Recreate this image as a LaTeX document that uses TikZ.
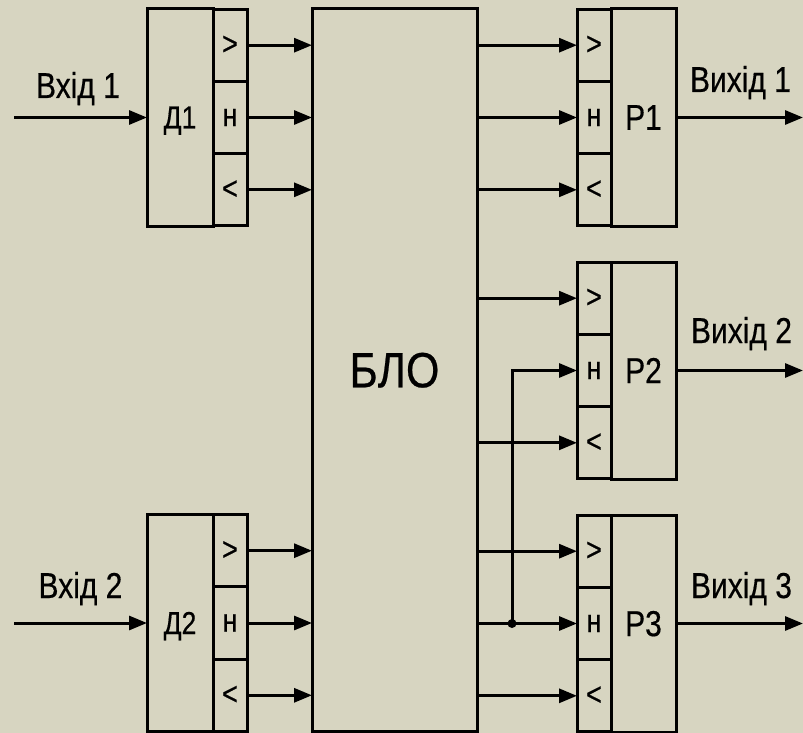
\documentclass[tikz,border=0pt]{standalone}
\usepackage{fontspec}
\setmainfont[FakeBold=0.5]{Liberation Sans}
\usepackage{graphicx}
\usetikzlibrary{arrows.meta,calc}
\definecolor{bg}{RGB}{215,213,193}
\newcommand{\stretchtxt}[2][1.2]{\scalebox{1}[#1]{#2}}
\begin{document}
\begin{tikzpicture}[x=1pt,y=-1pt,
  box/.style={draw, line width=3pt, inner sep=0pt, outer sep=0pt, text depth=0pt},
  cell/.style={box, minimum width=34pt, minimum height=72.3pt, font=\fontsize{27}{27}\selectfont},
  dmain/.style={box, minimum width=66pt, minimum height=217pt, font=\fontsize{26.5}{27}\selectfont},
  rmain/.style={box, minimum width=65pt, minimum height=217pt, font=\fontsize{30}{30}\selectfont},
  lbl/.style={inner sep=0pt, anchor=base, font=\fontsize{30}{30}\selectfont},
  arr/.style={line width=3pt, -{Triangle[length=18pt,width=14pt]}},
  wire/.style={line width=3pt}]
\useasboundingbox (0,0) rectangle (803,733);
\fill[bg] (0,0) rectangle (803,733);

% central block
\node[box, minimum width=165pt, minimum height=722pt, font=\fontsize{43}{43}\selectfont] (blo) at (394.5,370) {\stretchtxt[1.15]{БЛО}};

% D1
\node[dmain] (d1m) at (180,117.5) {\stretchtxt{Д1}};
\node[cell] (d1g) at (230,45.2) {\stretchtxt{>}};
\node[cell] (d1n) at (230,117.5) {\stretchtxt{н}};
\node[cell] (d1l) at (230,189.8) {\stretchtxt{<}};
% D2
\node[dmain] (d2m) at (180,623) {\stretchtxt{Д2}};
\node[cell] (d2g) at (230,550.7) {\stretchtxt{>}};
\node[cell] (d2n) at (230,623) {\stretchtxt{н}};
\node[cell] (d2l) at (230,695.3) {\stretchtxt{<}};

% R1
\node[rmain] (r1m) at (643.5,117.5) {\stretchtxt{Р1}};
\node[cell] (r1g) at (594,45.2) {\stretchtxt{>}};
\node[cell] (r1n) at (594,117.5) {\stretchtxt{н}};
\node[cell] (r1l) at (594,189.8) {\stretchtxt{<}};
% R2
\node[rmain] (r2m) at (643.5,370.5) {\stretchtxt{Р2}};
\node[cell] (r2g) at (594,298.2) {\stretchtxt{>}};
\node[cell] (r2n) at (594,370.5) {\stretchtxt{н}};
\node[cell] (r2l) at (594,442.8) {\stretchtxt{<}};
% R3
\node[rmain] (r3m) at (643.5,623.5) {\stretchtxt{Р3}};
\node[cell] (r3g) at (594,551.2) {\stretchtxt{>}};
\node[cell] (r3n) at (594,623.5) {\stretchtxt{н}};
\node[cell] (r3l) at (594,695.8) {\stretchtxt{<}};

% labels
\node[lbl] (lin1) at (78,98) {\stretchtxt{Вхід 1}};
\node[lbl] (lin2) at (80.5,598) {\stretchtxt{Вхід 2}};
\node[lbl] (lout1) at (740.5,92) {\stretchtxt{Вихід 1}};
\node[lbl] (lout2) at (741.5,343) {\stretchtxt{Вихід 2}};
\node[lbl] (lout3) at (741.5,598) {\stretchtxt{Вихід 3}};

% free ends
\coordinate (in1) at (14,117.5);
\coordinate (in2) at (14,623);
\coordinate (out1) at (803,117.5);
\coordinate (out2) at (803,370.5);
\coordinate (out3) at (803,623.5);

% inputs
\draw[arr] (in1) -- (d1m.west);
\draw[arr] (in2) -- (d2m.west);

% D -> BLO
\foreach \c in {d1g,d1n,d1l,d2g,d2n,d2l}
  \draw[arr] (\c.east) -- (\c.east -| blo.west);

% BLO -> R
\foreach \c in {r1g,r1n,r1l,r2g,r2l,r3g,r3n,r3l}
  \draw[arr] (blo.east |- \c.west) -- (\c.west);

% junction feeding R2 "н"
\path (blo.east |- r3n.west) ++(35,0) coordinate (jn);
\draw[arr] (jn) |- (r2n.west);
\fill (jn) circle (4.5pt);

% outputs
\draw[arr] (r1m.east) -- (out1);
\draw[arr] (r2m.east) -- (out2);
\draw[arr] (r3m.east) -- (out3);
\end{tikzpicture}
\end{document}
